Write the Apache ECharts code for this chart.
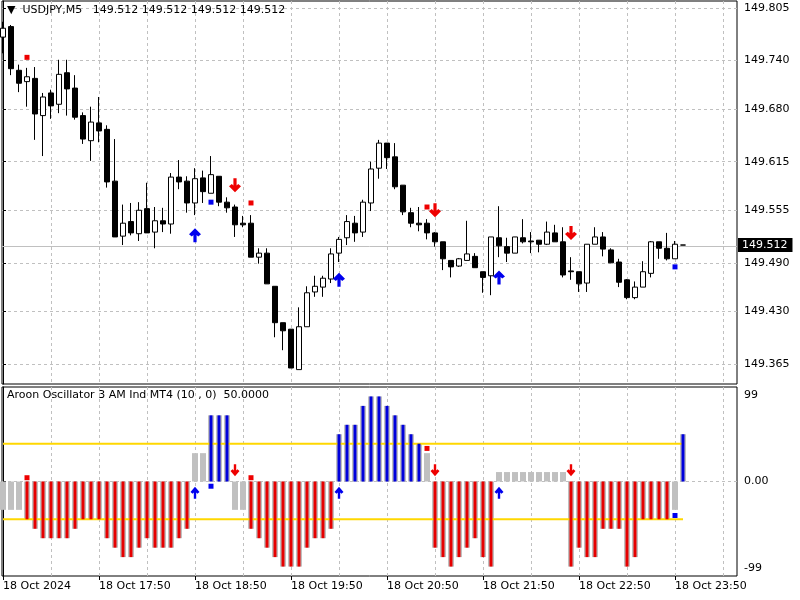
<!DOCTYPE html>
<html><head><meta charset="utf-8">
<script src="https://cdn.jsdelivr.net/npm/echarts@6/dist/echarts.min.js"></script>
<style>html,body{margin:0;padding:0;background:#fff}#c{width:800px;height:600px}</style>
</head><body><div id="c"></div>
<script>
const symbolName = 'USDJPY,M5';
// OHLC per 5-minute bar, bar 0 = 16:50 ... bar 85 = 23:55 (current)
const openP = [149.769,149.782,149.728,149.714,149.718,149.672,149.700,149.686,149.725,149.706,
149.672,149.641,149.663,149.655,149.591,149.523,149.541,149.526,149.557,149.528,
149.542,149.538,149.596,149.591,149.564,149.595,149.576,149.597,149.565,149.559,
149.539,149.539,149.497,149.502,149.461,149.416,149.408,149.358,149.411,149.454,
149.460,149.470,149.502,149.521,149.539,149.528,149.564,149.607,149.638,149.621,
149.586,149.552,149.539,149.539,149.527,149.516,149.493,149.486,149.493,149.498,
149.479,149.474,149.521,149.510,149.502,149.521,149.517,149.518,149.513,149.527,
149.516,149.480,149.479,149.465,149.513,149.522,149.506,149.491,149.469,149.447,
149.460,149.477,149.516,149.508,149.495,149.512];
const closeP = [149.780,149.730,149.712,149.720,149.674,149.695,149.684,149.723,149.705,149.670,
149.643,149.664,149.653,149.590,149.522,149.539,149.527,149.555,149.527,149.542,
149.538,149.596,149.590,149.564,149.594,149.578,149.599,149.565,149.558,149.537,
149.537,149.497,149.502,149.464,149.416,149.406,149.360,149.411,149.453,149.461,
149.471,149.501,149.519,149.541,149.527,149.565,149.606,149.638,149.620,149.584,
149.553,149.539,149.537,149.527,149.516,149.495,149.485,149.495,149.501,149.484,
149.472,149.522,149.511,149.502,149.522,149.516,149.516,149.513,149.528,149.516,
149.475,149.479,149.464,149.513,149.522,149.507,149.490,149.466,149.447,149.460,
149.479,149.516,149.508,149.495,149.513,149.512];
const lowP = [149.749,149.722,149.701,149.683,149.642,149.622,149.668,149.675,149.672,149.667,
149.637,149.616,149.639,149.583,149.522,149.512,149.524,149.517,149.527,149.508,
149.528,149.526,149.581,149.552,149.549,149.564,149.576,149.560,149.552,149.522,
149.534,149.497,149.489,149.464,149.398,149.382,149.360,149.358,149.411,149.448,
149.448,149.465,149.491,149.512,149.516,149.522,149.554,149.594,149.606,149.581,
149.549,149.534,149.529,149.519,149.510,149.481,149.472,149.485,149.493,149.484,
149.453,149.450,149.497,149.491,149.502,149.514,149.502,149.503,149.512,149.516,
149.472,149.469,149.454,149.454,149.513,149.498,149.490,149.460,149.445,149.445,
149.460,149.472,149.495,149.493,149.495,149.512];
const highP = [149.788,149.784,149.735,149.731,149.732,149.700,149.704,149.741,149.741,149.722,
149.676,149.683,149.695,149.660,149.643,149.562,149.564,149.565,149.589,149.559,
149.558,149.601,149.617,149.597,149.607,149.604,149.622,149.597,149.571,149.562,
149.548,149.549,149.508,149.508,149.461,149.416,149.408,149.435,149.461,149.474,
149.474,149.508,149.522,149.549,149.548,149.568,149.615,149.642,149.638,149.638,
149.586,149.558,149.559,149.544,149.528,149.516,149.493,149.496,149.542,149.502,
149.479,149.522,149.560,149.521,149.522,149.544,149.528,149.518,149.541,149.537,
149.534,149.497,149.479,149.513,149.534,149.528,149.508,149.495,149.470,149.467,
149.492,149.517,149.516,149.527,149.517,149.512];
const bidPrice = 149.512;
const priceTicks = [149.365,149.430,149.490,149.555,149.615,149.680,149.740,149.805];
const xTickIdx = [0,12,24,36,48,60,72,84];
const xTickLabels = ['18 Oct 2024','18 Oct 17:50','18 Oct 18:50','18 Oct 19:50','18 Oct 20:50','18 Oct 21:50','18 Oct 22:50','18 Oct 23:50'];
const vGridIdx = [6,12,18,24,30,36,42,48,54,60,66,72,78,84,90];

// Aroon oscillator (10,0)
const aroon = [-30,-30,-30,-40,-50,-60,-60,-60,-60,-50,
-40,-40,-40,-60,-70,-80,-80,-70,-60,-70,
-70,-70,-60,-50,30,30,70,70,70,-30,
-30,-50,-60,-70,-80,-90,-90,-90,-70,-60,
-60,-50,50,60,60,80,90,90,80,70,
60,50,40,30,-70,-80,-90,-80,-70,-60,
-80,-90,10,10,10,10,10,10,10,10,
10,-90,-70,-80,-80,-50,-50,-50,-90,-80,
-40,-40,-40,-40,-30,50];
const aroonState = [
 'g','g','g','r','r','r','r','r','r','r',
 'r','r','r','r','r','r','r','r','r','r',
 'r','r','r','r','g','g','b','b','b','g',
 'g','r','r','r','r','r','r','r','r','r',
 'r','r','b','b','b','b','b','b','b','b',
 'b','b','b','g','r','r','r','r','r','r',
 'r','r','g','g','g','g','g','g','g','g',
 'g','r','r','r','r','r','r','r','r','r',
 'r','r','r','r','g','b'];
const levels = [40,-40];
const oscLabelAt = [91,0,-92];
const oscLabels = ['99','0.00','-99'];

const mainUpArrows = [[24,149.524],[42,149.469],[62,149.472]];
const mainDownArrows = [[29,149.586],[54,149.555],[71,149.527]];
const mainRedDots = [[3,149.744],[31,149.564],[53,149.559]];
const mainBlueDots = [[26,149.565],[84,149.485]];
const oscUpArrows = [[24,-12],[42,-12],[62,-12]];
const oscDownArrows = [[29,12],[54,12],[71,12]];
const oscRedDots = [[3,4],[31,4],[53,35]];
const oscBlueDots = [[26,-5],[84,-36]];

const FONT = 'DejaVu Sans';
const RED = '#e60000', BLUE = '#0000dc', GRAY = '#c0c0c0', YEL = '#ffd700';
const ARED = '#ee0000', ABLUE = '#0000ee';
const UP = 'path://M6,0 L12,6 L9.2,8.2 L7.6,6.6 L7.6,14 L4.4,14 L4.4,6.6 L2.8,8.2 L0,6 Z';
const DOWN = 'path://M6,14 L12,8 L9.2,5.8 L7.6,7.4 L7.6,0 L4.4,0 L4.4,7.4 L2.8,5.8 L0,8 Z';
const xMin = -0.125, xMax = 91.75;
const last = openP.length - 1;

const candles = openP.map((o,i)=>[i,o,closeP[i],lowP[i],highP[i]]);
const grayBars = aroon.map((v,i)=>[i,v]);
const colorBars = [];
aroon.forEach((v,i)=>{ if(aroonState[i]!=='g') colorBars.push({value:[i,v], itemStyle:{color: aroonState[i]==='r'?RED:BLUE}}); });

const dash = {show:true, lineStyle:{color:'#c0c0c0', type:[3,3], width:1}};
function gridX(gi){
  return {type:'value', gridIndex:gi, position:'bottom', min:xMin, max:xMax, axisLine:{show:false},
    axisTick:{show:false, customValues:vGridIdx}, axisLabel:{show:false}, splitLine:dash};
}
const txt = {fontFamily:FONT, fontSize:11, color:'#000'};
function marker(xi, yi, sym, size, color, data){
  return {type:'scatter', xAxisIndex:xi, yAxisIndex:yi, z:6, symbol:sym, symbolSize:size,
    itemStyle:{color:color, opacity:1}, emphasis:{disabled:true}, data:data};
}

const chart = echarts.init(document.getElementById('c'));
chart.setOption({
  animation:false,
  backgroundColor:'#fff',
  title:[
    {text:'\u25BC  '+symbolName+'   '+[openP[last],highP[last],lowP[last],closeP[last]].map(v=>v.toFixed(3)).join(' '),
     left:7, top:5, padding:0, textStyle:Object.assign({fontWeight:'normal'},txt)},
    {text:'Aroon Oscillator 3 AM Ind MT4 (10 , 0)  '+aroon[last].toFixed(4),
     left:7, top:390, padding:0, textStyle:Object.assign({fontWeight:'normal'},txt)}
  ],
  grid:[
    {left:2, top:1, width:735, height:383, show:true, borderColor:'#000', borderWidth:1},
    {left:2, top:387, width:735, height:189, show:true, borderColor:'#000', borderWidth:1}
  ],
  xAxis:[
    gridX(0), gridX(1),
    {type:'value', gridIndex:1, position:'bottom', min:xMin, max:xMax, axisLine:{show:false},
     axisTick:{show:true, customValues:xTickIdx, length:4, lineStyle:{color:'#000'}},
     axisLabel:Object.assign({show:true, customValues:xTickIdx, align:'left', margin:5,
       formatter:v=>xTickLabels[xTickIdx.indexOf(Math.round(v))]}, txt),
     splitLine:{show:false}}
  ],
  yAxis:[
    {type:'value', gridIndex:0, position:'right', min:149.340229, max:149.813653,
     axisLine:{show:true, lineStyle:{color:'#000'}},
     axisTick:{show:true, length:3, customValues:priceTicks, lineStyle:{color:'#000'}},
     axisLabel:Object.assign({customValues:priceTicks, formatter:v=>v.toFixed(3), margin:7}, txt),
     splitLine:dash},
    {type:'value', gridIndex:0, position:'right', min:149.340229, max:149.813653,
     axisLine:{show:false}, axisTick:{show:false}, splitLine:{show:false},
     axisLabel:{customValues:[bidPrice], formatter:v=>v.toFixed(3), margin:1, fontFamily:FONT, fontSize:11,
       color:'#fff', backgroundColor:'#000', padding:[2,5,1,4]}},
    {type:'value', gridIndex:1, position:'right', min:-100, max:100,
     axisLine:{show:true, lineStyle:{color:'#000'}},
     axisTick:{show:true, length:3, customValues:[0], lineStyle:{color:'#000'}},
     axisLabel:Object.assign({customValues:oscLabelAt, margin:7,
       formatter:v=>oscLabels[oscLabelAt.indexOf(Math.round(v))]}, txt),
     splitLine:dash}
  ],
  series:[
    {type:'candlestick', xAxisIndex:0, yAxisIndex:0, data:candles, barWidth:5, z:3,
     encode:{x:0, y:[1,2,3,4]},
     itemStyle:{color:'#fff', color0:'#000', borderColor:'#000', borderColor0:'#000', borderColorDoji:'#000', borderWidth:1},
     markLine:{silent:true, symbol:'none', z:1, label:{show:false}, animation:false,
       lineStyle:{color:GRAY, type:'solid', width:1}, data:[{yAxis:bidPrice}]}},
    marker(0,0,UP,[12,14],ABLUE,mainUpArrows),
    marker(0,0,DOWN,[12,14],ARED,mainDownArrows),
    marker(0,0,'rect',5,ARED,mainRedDots),
    marker(0,0,'rect',5,ABLUE,mainBlueDots),

    {type:'bar', xAxisIndex:1, yAxisIndex:2, z:2, barWidth:6, itemStyle:{color:GRAY}, data:grayBars},
    {type:'line', xAxisIndex:1, yAxisIndex:2, z:3, symbol:'none', lineStyle:{color:YEL, width:2}, data:[[0,levels[0]],[last,levels[0]]]},
    {type:'line', xAxisIndex:1, yAxisIndex:2, z:3, symbol:'none', lineStyle:{color:YEL, width:2}, data:[[0,levels[1]],[last,levels[1]]]},
    {type:'bar', xAxisIndex:2, yAxisIndex:2, z:4, barWidth:3, data:colorBars},
    marker(1,2,UP,[9,12],ABLUE,oscUpArrows),
    marker(1,2,DOWN,[9,12],ARED,oscDownArrows),
    marker(1,2,'rect',5,ARED,oscRedDots),
    marker(1,2,'rect',5,ABLUE,oscBlueDots)
  ]
});
</script></body></html>
